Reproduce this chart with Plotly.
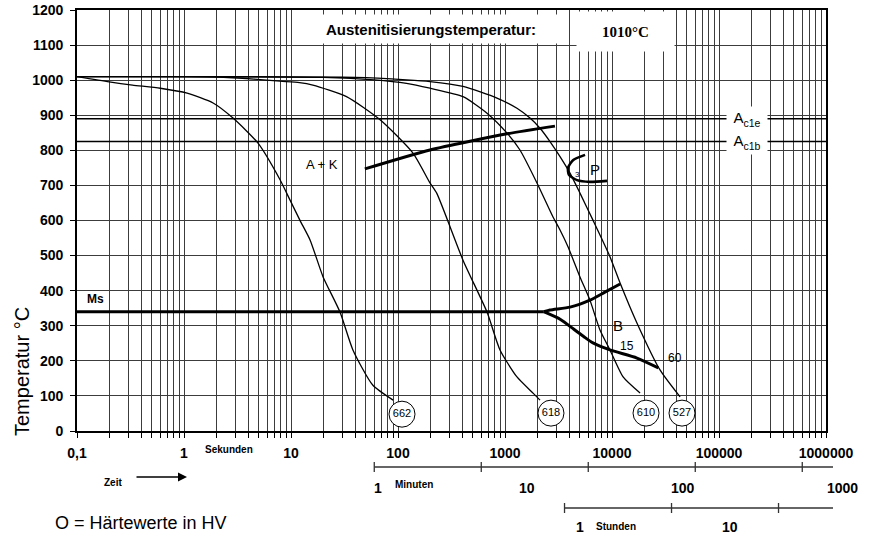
import numpy as np
import plotly.graph_objects as go

# ---------------- data ----------------
# cooling curves: time in s, temperature in °C
c1_t = [0.1, 0.2, 0.33, 0.6, 1.07, 1.87, 2.87, 4.9, 7.9, 9.8, 12.1, 15.1, 19.9, 28.7, 37.9, 58, 90]
c1_T = [1010, 995, 986, 977, 963, 935, 892, 821, 716, 658, 601, 544, 440, 339, 231, 131, 88]

c2_t = [0.1, 1.0, 2.0, 4.5, 7.9, 12, 16, 33, 68, 138, 199, 230, 405, 679, 898, 1294, 1828, 2125]
c2_T = [1010, 1010, 1009, 1003, 997, 993, 986, 953, 887, 792, 707, 678, 487, 339, 231, 154, 108, 88]

c3_t = [0.1, 20, 60, 120, 199, 405, 679, 1045, 1380, 1990, 2810, 3268, 3880, 5020, 6220, 7720, 9570, 12700, 18300]
c3_T = [1010, 1008, 1001, 991, 977, 953, 906, 849, 801, 707, 610, 573, 525, 439, 373, 288, 231, 154, 108]

c4_t = [0.1, 40, 120, 199, 405, 841, 1294, 1713, 2125, 2634, 3268, 4050, 5020, 6640, 9570, 11900, 17100, 28100, 43300]
c4_T = [1010, 1008, 1001, 996, 982, 949, 920, 892, 863, 825, 782, 735, 678, 601, 497, 422, 308, 174, 97]

# transformation lines
ak_t = [49, 199, 1045, 2930]
ak_T = [747, 801, 847, 869]

ms_t = [0.1, 2300]
ms_T = [340, 340]
b_up_t = [2300, 2634, 4050, 6220, 8500, 11900]
b_up_T = [340, 345, 353, 373, 395, 419]
b_lo_t = [2300, 3300, 4400, 5500, 6640, 9570, 17100, 27100]
b_lo_T = [340, 318, 290, 268, 251, 231, 208, 180]

p_t = [5600, 4320, 3880, 3960, 4710, 6220, 8980]
p_T = [787, 772, 750, 730, 715, 710, 713]

ac1e = 890
ac1b = 825

# hardness values (HV) and where their circles sit
hv_vals = [662, 618, 610, 527]
hv_t = [109, 2690, 20800, 45100]
hv_T = [48, 51, 51, 51]

x_dec_labels = ["0,1", "1", "10", "100", "1000", "10000", "100000", "1000000"]
y_ticks = list(range(0, 1300, 100))

FONT = "Liberation Sans, Arial, sans-serif"
GRID = "#3c3c3c"

# ---------------- figure ----------------
fig = go.Figure()

def line(x, y, w=1.3, shape="spline"):
    fig.add_trace(go.Scatter(x=x, y=y, mode="lines",
                             line=dict(color="black", width=w, shape=shape, smoothing=0.6),
                             hoverinfo="skip"))

# Ac lines
line([0.1, 1e6], [ac1e, ac1e], w=1.6, shape="linear")
line([0.1, 1e6], [ac1b, ac1b], w=1.6, shape="linear")

for t, T in [(c1_t, c1_T), (c2_t, c2_T), (c3_t, c3_T), (c4_t, c4_T)]:
    line(t, T, w=1.3)

line(ak_t, ak_T, w=3)
line(ms_t, ms_T, w=3, shape="linear")
line(b_up_t, b_up_T, w=3)
line(b_lo_t, b_lo_T, w=3)
line(p_t, p_T, w=2.6)

# hardness circles
fig.add_trace(go.Scatter(x=hv_t, y=hv_T, mode="markers+text",
                         marker=dict(symbol="circle", size=26, color="white",
                                     line=dict(color="black", width=1)),
                         text=[str(v) for v in hv_vals], textposition="middle center",
                         textfont=dict(family=FONT, size=11, color="black"),
                         cliponaxis=False, hoverinfo="skip"))

# x ticks: every 1..9 x 10^k, labels only at decades
xt, xtt = [], []
for k in range(-1, 6):
    for m in range(1, 10):
        xt.append(m * 10.0 ** k)
        xtt.append(x_dec_labels[k + 1] if m == 1 else " ")
xt.append(1e6)
xtt.append(x_dec_labels[-1])

fig.update_xaxes(type="log", range=[-1, 6], tickvals=xt, ticktext=xtt, tickangle=0,
                 showgrid=True, gridcolor=GRID, gridwidth=1, automargin=False,
                 ticks="outside", ticklen=5, tickcolor="black",
                 showline=True, linecolor="black", linewidth=1.6, mirror=True,
                 tickfont=dict(family=FONT, size=14, color="black", weight="bold"),
                 ticklabelstandoff=3, zeroline=False)
fig.update_yaxes(range=[0, 1200], tickvals=y_ticks, ticktext=[str(v) for v in y_ticks],
                 showgrid=True, gridcolor=GRID, gridwidth=1, automargin=False,
                 ticks="outside", ticklen=5, tickcolor="black",
                 showline=True, linecolor="black", linewidth=1.6, mirror=True,
                 tickfont=dict(family=FONT, size=14, color="black", weight="bold"),
                 ticklabelstandoff=4, zeroline=False)

W, H = 875, 537
L, R, T_, B = 77, 49, 10, 106
PW, PH = W - L - R, H - T_ - B

def px(x):  # pixel x -> paper
    return (x - L) / PW

def py(y):  # pixel y -> paper
    return (H - B - y) / PH

def tx(t):  # time -> paper x
    return (np.log10(t) + 1) / 7

ann = []
def add(text, x, y, size=12, bold=False, xref="paper", yref="paper", **kw):
    fam = kw.pop("family", FONT)
    kw.setdefault("xanchor", "center")
    kw.setdefault("yanchor", "middle")
    ann.append(dict(text=text, x=x, y=y, xref=xref, yref=yref, showarrow=False,
                    font=dict(family=fam, size=size, color="black",
                              weight="bold" if bold else "normal"), **kw))

# title boxes
add("Austenitisierungstemperatur:", px(431), py(29), size=15, bold=True,
    bgcolor="white", width=262, height=26)
add("1010°C", px(625), py(31), size=15, bold=True,
    family="Liberation Serif, Times New Roman, serif",
    bgcolor="white", width=95, height=37)

# in-plot labels (data coords; log axis -> log10)
add("A<sub>c1e</sub>", 5.262, ac1e, size=15, xref="x", yref="y", bgcolor="white", width=38, height=22)
add("A<sub>c1b</sub>", 5.262, ac1b, size=15, xref="x", yref="y", bgcolor="white", width=38, height=22)
add("A + K", np.log10(19.5), 760, size=13, xref="x", yref="y")
add("P", np.log10(6930), 744, size=15, xref="x", yref="y")
add("3", np.log10(4810), 731, size=8, xref="x", yref="y")
add("Ms", np.log10(0.148), 376, size=12, bold=True, xref="x", yref="y")
add("B", np.log10(11400), 302, size=15, xref="x", yref="y")
add("15", np.log10(13800), 242, size=12, xref="x", yref="y")
add("60", np.log10(38800), 208, size=12, xref="x", yref="y")

# y title
add("Temperatur °C", px(22), py(371), size=20, textangle=-90)

# lower scales
add("Sekunden", px(229), py(450), size=10, bold=True)
add("Zeit", px(113), py(482), size=10, bold=True)
ann.append(dict(x=px(187), y=py(477), xref="paper", yref="paper", text="", showarrow=True,
                ax=-52, ay=0, arrowhead=2, arrowsize=1.2, arrowwidth=1.5, arrowcolor="black"))

add("1", px(378), py(488), size=14, bold=True)
add("Minuten", px(414), py(484), size=10, bold=True)
add("10", px(527), py(488), size=14, bold=True)
add("100", px(683), py(488), size=14, bold=True)
add("1000", px(842), py(488), size=14, bold=True)

add("1", px(580), py(527), size=14, bold=True)
add("Stunden", px(616), py(526), size=10, bold=True)
add("10", px(730), py(527), size=14, bold=True)

add("O = Härtewerte in HV", px(53), py(523), size=18, xanchor="left")

shapes = []
min_ticks = [60 * 10 ** k for k in range(5)]
hr_ticks = [3600 * 10 ** k for k in range(3)]
for y0, ticks in [(467, min_ticks), (508, hr_ticks)]:
    shapes.append(dict(type="line", xref="paper", yref="paper", x0=tx(ticks[0]), x1=px(833),
                       y0=py(y0), y1=py(y0), line=dict(color="#333", width=1.3)))
    for t in ticks:
        shapes.append(dict(type="line", xref="paper", yref="paper", x0=tx(t), x1=tx(t),
                           y0=py(y0 - 5), y1=py(y0 + 5), line=dict(color="#333", width=1.3)))

fig.update_layout(width=W, height=H, margin=dict(l=L, r=R, t=T_, b=B, autoexpand=False),
                  plot_bgcolor="white", paper_bgcolor="white", showlegend=False,
                  annotations=ann, shapes=shapes)

fig.write_html("out.html", config={"displayModeBar": False},
               post_script="document.body.style.margin='0px';")
